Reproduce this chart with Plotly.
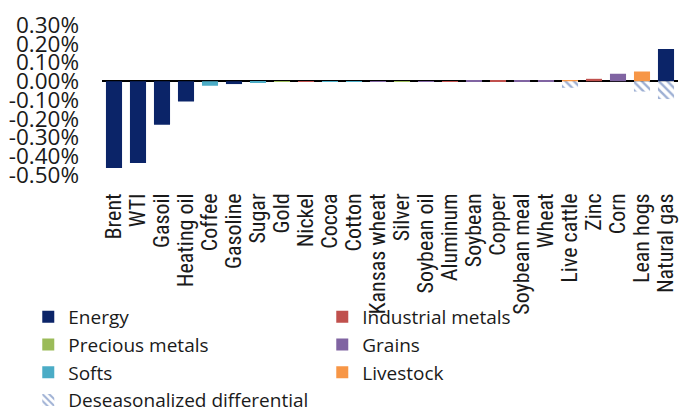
import plotly.graph_objects as go

# Commodities, left to right, with their sector
commodities = ["Brent", "WTI", "Gasoil", "Heating oil", "Coffee", "Gasoline", "Sugar",
               "Gold", "Nickel", "Cocoa", "Cotton", "Kansas wheat", "Silver", "Soybean oil",
               "Aluminum", "Soybean", "Copper", "Soybean meal", "Wheat", "Live cattle",
               "Zinc", "Corn", "Lean hogs", "Natural gas"]
sectors = ["Energy", "Energy", "Energy", "Energy", "Softs", "Energy", "Softs",
           "Precious metals", "Industrial metals", "Softs", "Softs", "Grains", "Precious metals", "Grains",
           "Industrial metals", "Grains", "Industrial metals", "Grains", "Grains", "Livestock",
           "Industrial metals", "Grains", "Livestock", "Energy"]
# contribution, in %
values = [-0.463, -0.436, -0.232, -0.108, -0.024, -0.015, -0.008,
          -0.002, -0.002, -0.002, -0.002, -0.002, -0.001, -0.002,
          0.001, 0.003, 0.004, 0.004, 0.004, 0.006,
          0.013, 0.04, 0.052, 0.172]

# deseasonalized differential (hatched)
deseason_names = ["Live cattle", "Lean hogs", "Natural gas"]
deseason_values = [-0.035, -0.055, -0.095]

sector_order = ["Energy", "Industrial metals", "Precious metals", "Grains", "Softs", "Livestock"]
sector_colors = {
    "Energy": "#0b2468",
    "Industrial metals": "#c0504d",
    "Precious metals": "#9bbb59",
    "Grains": "#8064a2",
    "Softs": "#4bacc6",
    "Livestock": "#f79646",
}

ytick_vals = [0.3, 0.2, 0.1, 0.0, -0.1, -0.2, -0.3, -0.4, -0.5]
ytick_text = ["0.30%", "0.20%", "0.10%", "0.00%", "-0.10%", "-0.20%", "-0.30%", "-0.40%", "-0.50%"]

font_family = "Open Sans, Noto Sans, sans-serif"
narrow_family = "Roboto Condensed, Liberation Sans Narrow, DejaVu Sans Condensed, sans-serif"

fig = go.Figure()
for s in sector_order:
    xs = [c for c, g in zip(commodities, sectors) if g == s]
    ys = [v for v, g in zip(values, sectors) if g == s]
    fig.add_trace(go.Bar(x=xs, y=ys, name=s, marker_color=sector_colors[s],
                         marker_line_width=0))

fig.add_trace(go.Bar(
    x=deseason_names, y=deseason_values, name="Deseasonalized differential",
    marker=dict(color="white", line_width=0,
                pattern=dict(shape="\\", fgcolor="#3b5fa8", bgcolor="white",
                             size=6, solidity=0.4)),
))

fig.update_layout(
    width=681, height=404,
    margin=dict(l=94, r=11, t=17, b=237, autoexpand=False),
    paper_bgcolor="white", plot_bgcolor="white",
    font=dict(family=font_family, color="#1a1a1a", size=18),
    barmode="relative",
    bargap=0.33,
    showlegend=True,
    legend=dict(orientation="h", x=-0.128, xanchor="left", y=-0.82, yanchor="top",
                font=dict(size=19), entrywidth=249, traceorder="normal",
                bgcolor="rgba(0,0,0,0)", itemwidth=30, tracegroupgap=0),
)
fig.update_xaxes(categoryorder="array", categoryarray=commodities,
                 tickmode="array", tickvals=commodities, automargin=False,
                 tickangle=-90, tickfont=dict(size=22, family=narrow_family),
                 showgrid=False, showline=False, ticks="", ticklabelstandoff=13)
fig.update_yaxes(range=[-0.5, 0.3], tickvals=ytick_vals, ticktext=ytick_text,
                 tickfont=dict(size=22.5), showgrid=False, showline=False,
                 zeroline=True, zerolinecolor="black", zerolinewidth=2,
                 automargin=False, ticks="", ticklabelstandoff=22)

fig.write_html("out.html")
